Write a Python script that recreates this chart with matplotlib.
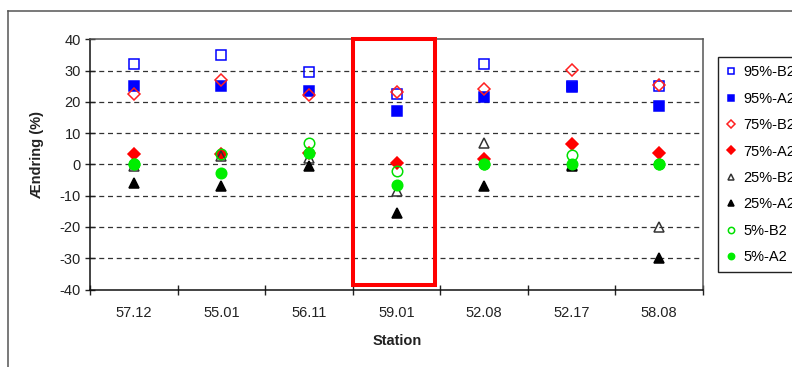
#!/usr/bin/env python3
"""
Ændring (%) per stasjon - percentiler for B2 og A2 scenarier
"""

import numpy as np
import matplotlib.pyplot as plt
from matplotlib.lines import Line2D
from matplotlib.patches import Rectangle

# Data lest av figuren
stations = ['57.12', '55.01', '56.11', '59.01', '52.08', '52.17', '58.08']

p95_b2 = [32.0, 35.0, 29.5, 22.6, 32.0, 25.0, 25.2]
p95_a2 = [25.0, 25.0, 23.5, 17.2, 21.4, 24.9, 18.8]
p75_b2 = [22.6, 27.0, 22.2, 23.2, 24.1, 30.2, 25.3]
p75_a2 = [3.4, 3.2, 3.8, 0.3, 1.6, 6.6, 3.5]
p25_b2 = [-0.5, 2.6, 2.2, -8.5, 6.9, -0.3, -20.0]
p25_a2 = [-6.0, -7.0, -0.5, -15.4, -6.9, -0.5, -30.0]
p5_b2 = [0.0, 3.2, 6.9, -2.1, 0.0, 2.9, 0.0]
p5_a2 = [0.0, -2.6, 3.7, -6.6, 0.0, 0.0, 0.0]

highlight = '59.01'

plt.rcParams['font.family'] = ['Liberation Sans', 'DejaVu Sans']
plt.rcParams['axes.unicode_minus'] = False


def main():
    fig = plt.figure(figsize=(7.92, 3.67), dpi=100)
    ax = fig.add_axes([90 / 792, 1 - 289.5 / 367, 613 / 792, 250.2 / 367])

    x = np.arange(len(stations))
    ms = 7.2

    series = [
        (p95_b2, '95%-B2', 's', '#0000ff', 'none', ms),
        (p95_a2, '95%-A2', 's', '#0000ff', '#0000ff', ms),
        (p75_b2, '75%-B2', 'D', '#ff2020', 'none', ms * 0.85),
        (p75_a2, '75%-A2', 'D', '#ff0000', '#ff0000', ms * 0.85),
        (p25_b2, '25%-B2', '^', '#333333', 'none', ms * 1.05),
        (p25_a2, '25%-A2', '^', '#000000', '#000000', ms * 1.05),
        (p5_b2, '5%-B2', 'o', '#00e000', 'none', ms * 1.05),
        (p5_a2, '5%-A2', 'o', '#00ee00', '#00ee00', ms * 1.05),
    ]
    for vals, lab, mk, ec, fc, size in series:
        ax.plot(x, vals, linestyle='none', marker=mk, markersize=size,
                markeredgecolor=ec, markerfacecolor=fc, markeredgewidth=1.1,
                label=lab, zorder=3)

    ax.set_xlim(-0.5, len(stations) - 0.5)
    ax.set_ylim(-40, 40)
    ax.set_yticks(np.arange(-40, 41, 10))

    # kategori-ticks på grensene, etiketter i midten
    ax.set_xticks(np.arange(-0.5, len(stations), 1.0))
    ax.set_xticklabels([])
    ax.set_xticks(x, minor=True)
    ax.set_xticklabels(stations, minor=True)
    ax.tick_params(axis='x', which='major', direction='inout', length=7, width=1, color='#222222')
    ax.tick_params(axis='x', which='minor', length=0, pad=12, labelsize=10.5, labelcolor='#222222')
    ax.tick_params(axis='y', direction='inout', length=7, width=1, pad=3,
                   labelsize=10.5, labelcolor='#222222', color='#222222')

    for v in range(-30, 31, 10):
        ax.axhline(v, color='#333333', linewidth=0.9, linestyle=(0, (4, 3)), zorder=1)

    for side in ['left', 'bottom']:
        ax.spines[side].set_color('#111111')
        ax.spines[side].set_linewidth(1.1)
    for side in ['top', 'right']:
        ax.spines[side].set_color('#555555')
        ax.spines[side].set_linewidth(1.1)

    # rød ramme rundt valgt stasjon
    i = stations.index(highlight)
    rect = Rectangle((i - 0.492, -38.5), 0.934, 78.7, fill=False,
                     edgecolor='#ff0000', linewidth=2.9, clip_on=False, zorder=5)
    ax.add_patch(rect)

    fig.text(37 / 792, 1 - 155 / 367, 'Ændring (%)', rotation=90, ha='center', va='center',
             fontsize=10.5, fontweight='bold', color='#222222')
    fig.text(397 / 792, 1 - 341 / 367, 'Station', ha='center', va='center',
             fontsize=10.5, fontweight='bold', color='#222222')

    leg = fig.legend(loc='upper left', bbox_to_anchor=(718 / 792, 1 - 57.3 / 367),
                     bbox_transform=fig.transFigure, borderaxespad=0,
                     fontsize=10.5, markerscale=0.6, handlelength=0.7, handletextpad=0.5,
                     labelspacing=0.85, borderpad=0.55, fancybox=False,
                     edgecolor='#222222', framealpha=1)
    leg.get_frame().set_linewidth(1.0)

    # ytre ramme
    fig.add_artist(Line2D([8 / 792, 1.0], [1 - 10.5 / 367] * 2, transform=fig.transFigure,
                          color='#555555', linewidth=1.1))
    fig.add_artist(Line2D([8 / 792] * 2, [0.0, 1 - 10.5 / 367], transform=fig.transFigure,
                          color='#555555', linewidth=1.1))

    fig.savefig('out.png', dpi=100)
    plt.close(fig)


if __name__ == '__main__':
    main()
